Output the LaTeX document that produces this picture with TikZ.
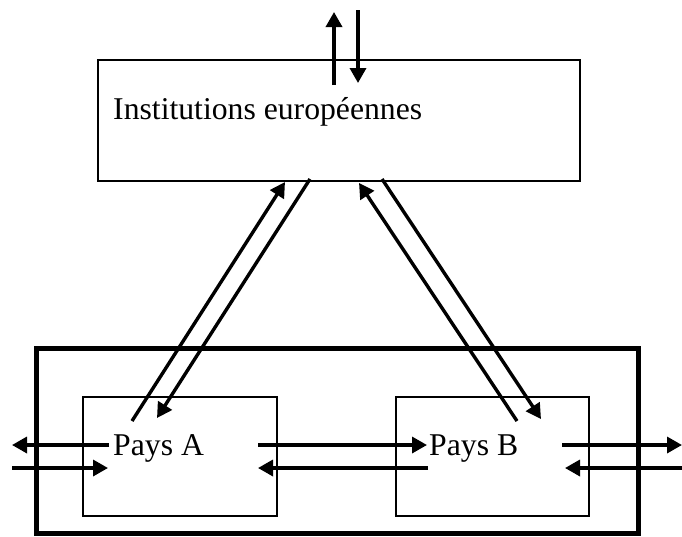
\documentclass[tikz,border=0pt]{standalone}
\usepackage{fontspec}
\setmainfont{Liberation Serif}
\usetikzlibrary{arrows.meta}
\tikzset{
  box/.style={draw, line width=1.6pt, inner sep=0pt},
  bigbox/.style={draw, line width=5pt},
  lbl/.style={inner sep=0pt, font=\fontsize{31.7}{36}\selectfont},
  flow/.style={line width=3.4pt, -{Triangle[length=15pt,width=16pt]}}
}
\begin{document}
\begin{tikzpicture}[x=1pt,y=-1pt]
\useasboundingbox (0,0) rectangle (682,536);
% boxes
\draw [bigbox] (36,348) rectangle (638,533);
\node [box, minimum width=482pt, minimum height=121pt] (inst) at (339,120.5) {};
\node [box, minimum width=194pt, minimum height=119pt] (paysA) at (180,456.5) {};
\node [box, minimum width=193pt, minimum height=119pt] (paysB) at (492.5,456.5) {};
\node [lbl, anchor=base west] (insttxt) at (113,119) {Institutions européennes};
\node [lbl, anchor=base west] (atxt) at (113,455) {Pays A};
\node [lbl, anchor=base west] (btxt) at (429,455) {Pays B};
% ends of the arrows
\coordinate (t1) at (334,85); \coordinate (t2) at (334,12);
\coordinate (t3) at (358,10); \coordinate (t4) at (358,83);
\coordinate (a1) at (132,421); \coordinate (a2) at (285,182);
\coordinate (a3) at (310,179); \coordinate (a4) at (157,418);
\coordinate (b1) at (517,421); \coordinate (b2) at (359,183);
\coordinate (b3) at (382,179); \coordinate (b4) at (541,419);
\coordinate (l1) at (109,445); \coordinate (l2) at (12,445);
\coordinate (l3) at (12,468); \coordinate (l4) at (108,468);
\coordinate (m1) at (258,445); \coordinate (m2) at (427,445);
\coordinate (m3) at (428,468); \coordinate (m4) at (258,468);
\coordinate (r1) at (562,445); \coordinate (r2) at (682,445);
\coordinate (r3) at (682,468); \coordinate (r4) at (565,468);
% arrows
\draw [flow] (t1) -- (t2);
\draw [flow] (t3) -- (t4);
\draw [flow] (a1) -- (a2);
\draw [flow] (a3) -- (a4);
\draw [flow] (b1) -- (b2);
\draw [flow] (b3) -- (b4);
\draw [flow] (l1) -- (l2);
\draw [flow] (l3) -- (l4);
\draw [flow] (m1) -- (m2);
\draw [flow] (m3) -- (m4);
\draw [flow] (r1) -- (r2);
\draw [flow] (r3) -- (r4);
\end{tikzpicture}
\end{document}
